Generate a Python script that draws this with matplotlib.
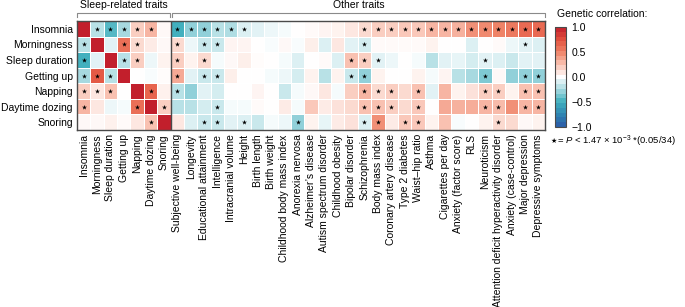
import numpy as np
import matplotlib
matplotlib.use("Agg")
import matplotlib.pyplot as plt
from matplotlib.colors import LinearSegmentedColormap

plt.rcParams['font.family'] = ['Liberation Sans', 'DejaVu Sans']
plt.rcParams['mathtext.fontset'] = 'custom'
plt.rcParams['mathtext.rm'] = 'Liberation Sans'
plt.rcParams['mathtext.it'] = 'Liberation Sans:italic'

# rows / columns
rows = ["Insomnia", "Morningness", "Sleep duration", "Getting up", "Napping",
        "Daytime dozing", "Snoring"]
cols = ["Insomnia", "Morningness", "Sleep duration", "Getting up", "Napping",
        "Daytime dozing", "Snoring",
        "Subjective well-being", "Longevity", "Educational attainment", "Intelligence",
        "Intracranial volume", "Height", "Birth length", "Birth weight",
        "Childhood body mass index", "Anorexia nervosa", "Alzheimer\u2019s disease",
        "Autism spectrum disorder", "Childhood obesity", "Bipolar disorder",
        "Schizophrenia", "Body mass index", "Coronary artery disease",
        "Type 2 diabetes", "Waist\u2013hip ratio", "Asthma", "Cigarettes per day",
        "Anxiety (factor score)", "RLS", "Neuroticism",
        "Attention deficit hyperactivity disorder", "Anxiety (case-control)",
        "Major depression", "Depressive symptoms"]
n_sleep = 7

# genetic correlations
insomnia = [1.0, -0.2, -0.45, -0.25, 0.2, 0.3, 0.03, -0.5, -0.3, -0.3, -0.2, -0.22, -0.1,
            -0.08, -0.05, -0.03, 0.0, 0.02, 0.04, 0.05, 0.1, 0.15, 0.2, 0.2, 0.22, 0.22,
            0.3, 0.3, 0.32, 0.45, 0.47, 0.5, 0.55, 0.62, 0.62]
morningness = [-0.2, 1.0, -0.08, 0.6, 0.15, 0.08, 0.03, 0.15, -0.05, -0.15, -0.15, 0.04,
               0.04, 0.0, -0.02, 0.03, -0.02, 0.07, -0.1, 0.1, -0.08, -0.12, 0.02, 0.02,
               0.02, 0.02, 0.05, 0.0, 0.0, -0.1, 0.0, 0.02, -0.05, -0.08, -0.1]
sleep_duration = [-0.5, -0.08, 1.0, -0.2, 0.2, -0.05, 0.05, 0.2, 0.05, 0.15, -0.03, 0.03,
                  0.07, 0.01, 0.0, -0.03, -0.1, 0.0, 0.02, -0.1, 0.25, 0.2, -0.08, -0.05,
                  0.0, -0.03, -0.2, -0.08, -0.07, -0.12, -0.08, -0.1, -0.15, -0.08, -0.08]
getting_up = [-0.25, 0.7, -0.2, 1.0, 0.0, -0.02, 0.01, 0.35, -0.08, -0.15, -0.15, 0.07,
              0.0, 0.0, -0.03, -0.05, -0.12, 0.05, -0.2, 0.05, -0.15, -0.3, 0.05, 0.0,
              0.0, 0.05, -0.03, 0.04, -0.2, -0.25, -0.35, 0.03, -0.3, -0.3, -0.3]
napping = [0.2, 0.1, 0.25, 0.0, 1.0, 0.65, 0.06, -0.2, -0.3, -0.08, -0.12, 0.0, 0.0, 0.04,
           0.0, -0.15, -0.03, 0.03, 0.1, -0.03, 0.2, 0.3, 0.15, 0.2, 0.15, 0.25, -0.08,
           0.3, 0.05, 0.12, 0.2, 0.2, 0.05, 0.25, 0.25]
daytime_dozing = [0.3, 0.1, -0.05, -0.03, 0.6, 1.0, 0.2, -0.2, -0.2, -0.12, -0.15, -0.03,
                  -0.03, 0.02, 0.0, 0.08, -0.03, 0.22, 0.08, 0.12, 0.15, 0.25, 0.25, 0.2,
                  0.15, 0.22, 0.0, 0.35, 0.32, 0.33, 0.3, 0.28, 0.45, 0.3, 0.3]
snoring = [0.03, 0.03, 0.06, 0.02, 0.1, 0.25, 1.0, 0.1, -0.1, -0.15, -0.15, -0.08, -0.1,
           -0.15, -0.03, -0.05, -0.3, 0.05, -0.07, 0.08, 0.12, -0.1, 0.45, 0.08, 0.22,
           0.22, 0.05, 0.25, -0.02, 0.0, 0.05, 0.15, 0.15, 0.03, 0.05]

# significant cells (column indices per row)
stars_insomnia = [1, 2, 3, 4, 5, 7, 8, 9, 10, 11, 12, 21, 22, 23, 24, 25, 26, 27, 28, 29,
                  30, 31, 32, 33, 34]
stars_morningness = [0, 3, 4, 7, 9, 10, 21, 33]
stars_sleep_duration = [0, 3, 4, 7, 9, 20, 21, 22, 30]
stars_getting_up = [0, 1, 2, 7, 9, 10, 20, 21, 30, 33, 34]
stars_napping = [0, 1, 2, 5, 7, 21, 22, 23, 25, 30, 31, 33, 34]
stars_daytime_dozing = [0, 4, 6, 10, 21, 22, 23, 25, 30, 31, 33, 34]
stars_snoring = [5, 9, 10, 12, 16, 21, 22, 24, 25, 31]

data = np.array([insomnia, morningness, sleep_duration, getting_up, napping,
                 daytime_dozing, snoring])
stars = [stars_insomnia, stars_morningness, stars_sleep_duration, stars_getting_up,
         stars_napping, stars_daytime_dozing, stars_snoring]

cmap = LinearSegmentedColormap.from_list(
    "rg", ["#2B5AA7", "#2F86B2", "#41B0BE", "#A6D9E0", "#FFFFFF",
           "#F9C2B2", "#EF8468", "#E2503E", "#C21F2C"])

W, H = 685, 307
fig = plt.figure(figsize=(W / 100, H / 100), dpi=100)
ax = fig.add_axes([77 / W, 1 - 130 / H, 468 / W, 109 / H])

mesh = ax.pcolormesh(np.arange(len(cols) + 1), np.arange(len(rows) + 1), data,
                     cmap=cmap, vmin=-1, vmax=1, edgecolors='white', linewidth=0.6)
ax.set_xlim(0, len(cols))
ax.set_ylim(len(rows), 0)

sx, sy = [], []
for r, idx in enumerate(stars):
    for c in idx:
        sx.append(c + 0.5)
        sy.append(r + 0.5)
ax.scatter(sx, sy, marker='*', s=14, c='black', linewidths=0, zorder=3)

ax.set_yticks(np.arange(len(rows)) + 0.5)
ax.set_yticklabels(rows, fontsize=7.5)
ax.set_xticks(np.arange(len(cols)) + 0.5)
ax.set_xticklabels(cols, rotation=90, fontsize=7.5)
ax.tick_params(length=0, pad=3)

for s in ax.spines.values():
    s.set_color('#4a4a4a')
    s.set_linewidth(1.0)
ax.axvline(n_sleep, color='#4a4a4a', lw=1.0)

# brackets on top
bcol = '#8a8a8a'
for x0, x1, label in [(0, n_sleep - 0.05, "Sleep-related traits"),
                      (n_sleep + 0.1, len(cols), "Other traits")]:
    ax.plot([x0, x0, x1, x1], [-0.25, -0.5, -0.5, -0.25], color=bcol, lw=0.8,
            clip_on=False)
    ax.text((x0 + x1) / 2, -1.05, label, ha='center', va='center', fontsize=7.5)

# colorbar (stepped like the original)
cax = fig.add_axes([555 / W, 1 - 127 / H, 11 / W, 100 / H])
cb = fig.colorbar(mesh, cax=cax, ticks=[1.0, 0.5, 0.0, -0.5, -1.0],
                  boundaries=np.linspace(-1, 1, 22))
cb.ax.set_yticklabels(["1.0", "0.5", "0.0", "\u22120.5", "\u22121.0"], fontsize=7.5)
cb.ax.tick_params(length=0, pad=4)
cb.outline.set_edgecolor('#4a4a4a')
cb.outline.set_linewidth(0.8)
fig.text(557 / W, 1 - 14 / H, "Genetic correlation:", fontsize=7.5, va='center')

# footnote
fig.text(551 / W, 1 - 141 / H, "\u2605", fontsize=5, va='center',
         family=['DejaVu Sans'])
fig.text(557 / W, 1 - 141 / H,
         "= $P$ < 1.47 \u00d7 10$^{\u22123}$ *(0.05/34)",
         fontsize=6.8, va='center')

fig.savefig("out.png", dpi=100)
